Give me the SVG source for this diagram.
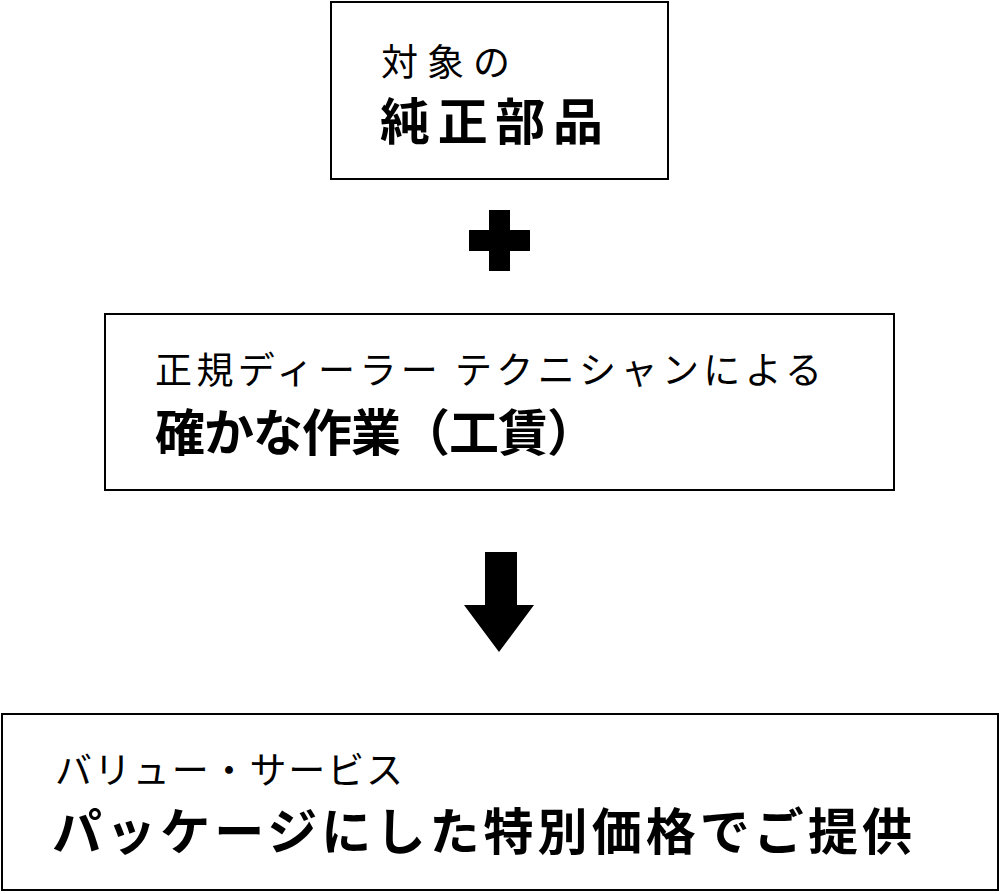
<svg xmlns="http://www.w3.org/2000/svg" width="1000" height="894" viewBox="0 0 1000 894">
<style>
.box{fill:#fff;stroke:#000;stroke-width:2}
.s{font-family:"Noto Sans CJK JP",sans-serif;font-size:37px;fill:#000}
.b{font-family:"Noto Sans CJK JP",sans-serif;font-size:50px;font-weight:bold;fill:#000}
</style>
<rect width="1000" height="894" fill="#fff"/>
<g id="node1"><rect class="box" x="331" y="2" width="337" height="177"/>
<text class="s" x="381" y="76" textLength="129" lengthAdjust="spacing">対象の</text><text class="b" x="380" y="140" textLength="223" lengthAdjust="spacing">純正部品</text></g>
<g id="node2"><rect class="box" x="105" y="314" width="789" height="176"/>
<text class="s" x="155" y="384" textLength="667" lengthAdjust="spacing">正規ディーラー テクニシャンによる</text><text class="b" x="155" y="451" textLength="442" lengthAdjust="spacing">確かな作業（工賃）</text></g>
<g id="node3"><rect class="box" x="2" y="714" width="996" height="176"/>
<text class="s" x="55" y="784" textLength="348" lengthAdjust="spacing">バリュー・サービス</text><text class="b" x="52" y="850" textLength="860" lengthAdjust="spacing">パッケージにした特別価格でご提供</text></g>
<g id="connectors">
<path d="M489 210h21v20h20v21h-20v20h-21v-20h-20v-21h20z" fill="#000"/>
<path d="M485 552h32v53h17l-35 47l-35-47h21z" fill="#000"/>
</g>
</svg>
